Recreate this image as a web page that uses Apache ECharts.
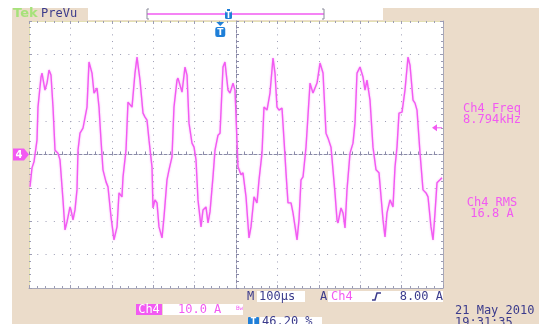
<!DOCTYPE html>
<html>
<head>
<meta charset="utf-8">
<script src="https://cdn.jsdelivr.net/npm/echarts@6/dist/echarts.min.js"></script>
<style>
  html, body { margin: 0; padding: 0; background: #fff; }
  #chart { width: 546px; height: 324px; }
</style>
</head>
<body>
<div id="chart"></div>
<script>
// time of each sample from the left edge of the screen (µs), 100 µs/div
const timeUs = [2.4,7.2,12.1,19.3,21.7,29.0,31.4,38.6,43.5,48.3,53.1,58.0,62.8,70.0,74.9,82.1,87.0,91.8,99.0,101.4,106.3,111.1,115.9,118.4,123.2,130.4,140.1,144.9,152.2,157.0,164.3,169.1,173.9,178.7,186.0,190.8,198.1,205.3,212.6,217.4,224.6,227.1,234.3,239.1,248.8,256.0,260.9,268.1,275.4,280.2,285.0,289.9,297.1,299.5,304.3,309.2,314.0,321.3,326.1,333.3,338.2,345.4,350.2,357.5,359.9,369.6,376.8,381.7,386.5,393.7,398.6,403.4,408.2,415.5,420.3,427.5,432.4,437.2,444.4,449.3,456.5,461.4,468.6,473.4,480.7,485.5,492.8,497.6,504.8,512.1,516.9,524.2,531.4,536.2,543.5,550.7,555.6,562.8,567.6,574.9,582.1,589.4,594.2,599.0,603.9,611.1,616.0,620.8,625.6,632.9,637.7,647.4,652.2,657.0,661.9,669.1,678.8,686.0,695.7,702.9,710.2,717.4,722.3,729.5,739.1,744.0,746.4,753.6,758.5,763.3,768.1,775.4,782.6,787.4,792.3,799.5,806.8,811.6,816.4,823.7,830.9,838.2,845.4,855.1,859.9,864.7,872.0,879.2,884.1,888.9,893.7,901.0,908.2,915.5,920.3,927.6,932.4,937.2,944.5,951.7,959.0,963.8,971.0,975.9,980.7,985.5,992.8,997.6];
// Ch4 current (A), 10 A/div
const currentA = [-9.7,-4.0,-2.2,4.3,14.2,23.2,24.4,19.3,21.4,25.3,23.8,14.2,1.3,0.4,-1.6,-13.6,-22.6,-20.2,-15.7,-16.6,-19.6,-16.6,-10.6,1.3,6.4,7.9,14.2,27.7,24.4,18.4,19.9,14.2,4.3,-4.6,-8.2,-9.7,-18.7,-25.6,-21.7,-11.5,-12.7,-6.7,1.3,15.7,14.2,24.4,29.2,22.3,12.4,11.2,10.3,4.3,-3.7,-16.0,-13.6,-14.5,-21.7,-25.0,-18.7,-7.6,-4.6,-0.7,14.2,22.3,22.9,18.7,26.2,23.8,9.4,3.4,2.2,-1.6,-13.6,-21.7,-16.6,-15.7,-20.5,-17.2,-6.7,1.3,5.8,6.4,26.2,27.7,19.3,18.4,21.4,19.3,-3.7,-6.1,-5.5,-12.7,-25.0,-21.7,-12.7,-14.5,-7.6,0.4,14.2,13.3,18.4,28.9,24.4,14.2,13.3,13.9,4.3,-5.5,-14.5,-14.5,-17.5,-25.6,-19.6,-7.6,-6.7,2.2,21.4,18.4,21.4,27.4,24.4,6.4,4.9,2.2,-11.5,-19.6,-20.5,-16.0,-17.5,-22.0,-10.6,0.4,3.4,9.4,24.4,26.2,23.2,19.3,22.3,16.3,2.2,-4.6,-5.5,-19.6,-24.7,-17.5,-13.6,-15.7,-3.7,2.2,12.4,12.7,19.3,29.2,26.8,16.3,15.4,13.3,0.4,-10.6,-11.5,-12.7,-21.7,-25.6,-17.5,-8.5,-7.6,-7.0];

const screenUs = 1000;     // 10 div
const halfRangeA = 40;     // 4 div each side
const triggerLevelA = 8.0;
const triggerPosUs = -38;  // T marker, from screen centre

const measLabels = ['Ch4 Freq', 'Ch4 RMS'];
const measValues = ['8.794kHz', '16.8 A'];

const BEIGE = '#ebdcca';
const PINK = '#f25af2';
const NAVY = '#3b3b8c';
const DOTS = '#9c9cb4';
const MONO = '"DejaVu Sans Mono", monospace';

const chart = echarts.init(document.getElementById('chart'));

// common axis bits
const frameX = (pos, lineColor) => ({
  type: 'value', position: pos, min: -screenUs / 2, max: screenUs / 2, interval: 100,
  axisLine: { show: true, onZero: false, lineStyle: { color: lineColor, width: 1 } },
  axisTick: { show: true, inside: true, length: 3, lineStyle: { color: DOTS } },
  minorTick: { show: true, splitNumber: 5, length: 2, lineStyle: { color: DOTS } },
  axisLabel: { show: false }, splitLine: { show: false }
});
const frameY = (pos, lineColor) => ({
  type: 'value', position: pos, min: -halfRangeA, max: halfRangeA, interval: 10,
  axisLine: { show: true, onZero: false, lineStyle: { color: lineColor, width: 1 } },
  axisTick: { show: true, inside: true, length: 3, lineStyle: { color: DOTS } },
  minorTick: { show: true, splitNumber: 5, length: 2, lineStyle: { color: DOTS } },
  axisLabel: { show: false }, splitLine: { show: false }
});

chart.setOption({
  backgroundColor: '#fff',
  animation: false,
  grid: { left: 29, top: 21, width: 414, height: 267, show: true, backgroundColor: '#fff', borderWidth: 0 },
  xAxis: [
    {
      type: 'value', min: -screenUs / 2, max: screenUs / 2, interval: 100,
      axisLine: { show: true, onZero: true, onZeroAxisIndex: 0, lineStyle: { color: '#8a8aa8', type: [3, 2] } },
      axisTick: { show: true, inside: true, length: 3, lineStyle: { color: '#8a8aa8' } },
      minorTick: { show: true, splitNumber: 5, length: 3, lineStyle: { color: '#8a8aa8' } },
      axisLabel: { show: false },
      splitLine: { show: true, lineStyle: { color: DOTS, width: 1, type: [1, 5.68] } }
    },
    frameX('bottom', '#a8a8b8'),
    frameX('top', '#e4e0b4')
  ],
  yAxis: [
    {
      type: 'value', min: -halfRangeA, max: halfRangeA, interval: 10,
      axisLine: { show: true, onZero: true, onZeroAxisIndex: 0, lineStyle: { color: '#8a8aa8', type: [3, 2] } },
      axisTick: { show: true, inside: true, length: 3, lineStyle: { color: '#8a8aa8' } },
      minorTick: { show: true, splitNumber: 5, length: 3, lineStyle: { color: '#8a8aa8' } },
      axisLabel: { show: false },
      splitLine: { show: true, lineStyle: { color: DOTS, width: 1, type: [1, 7.28] } }
    },
    frameY('left', '#e4e0b4'),
    frameY('right', '#a8a8b8')
  ],
  series: [{
    type: 'line',
    xAxisIndex: 0, yAxisIndex: 0,
    showSymbol: false,
    smooth: false,
    lineStyle: { color: PINK, width: 1.4, shadowColor: 'rgba(245,150,245,0.8)', shadowBlur: 2 },
    data: timeUs.map((t, i) => [t - screenUs / 2, currentA[i]]),
    z: 5
  }]
});

// screen decorations (scope readouts)
const lvlY = chart.convertToPixel({ yAxisIndex: 0 }, triggerLevelA);
const gndY = chart.convertToPixel({ yAxisIndex: 0 }, 0);
const trigX = chart.convertToPixel({ xAxisIndex: 0 }, triggerPosUs);

const txt = (x, y, s, color, size, align, extra) => Object.assign({
  type: 'text', x: x, y: y, z: 50,
  style: {
    text: s, fill: color, font: (extra && extra.weight ? extra.weight + ' ' : '') + size + 'px ' + (extra && extra.family ? extra.family : MONO),
    textAlign: align || 'left', align: align || 'left', textVerticalAlign: 'middle', verticalAlign: 'middle'
  }
}, {});
const box = (x, y, w, h, fill, z) => ({ type: 'rect', shape: { x: x, y: y, width: w, height: h }, style: { fill: fill }, z: z || 40, silent: true });

chart.setOption({
  graphic: [
    box(12, 8, 527, 316, BEIGE, -10),
    box(88, 8, 295, 12, '#fff', -9),
    txt(13, 14, 'Tek', '#a6e27a', 13, 'left', { weight: 'bold', family: '"DejaVu Sans"' }),
    txt(41, 14, 'PreVu', NAVY, 12, 'left'),
    // record position bar
    { type: 'line', shape: { x1: 147, y1: 14, x2: 324, y2: 14 }, style: { stroke: PINK, lineWidth: 1.5 }, z: 40 },
    { type: 'polyline', shape: { points: [[149, 9], [147, 9], [147, 19], [149, 19]] }, style: { stroke: '#8a8a9a', lineWidth: 1, fill: null }, z: 41 },
    { type: 'polyline', shape: { points: [[322, 9], [324, 9], [324, 19], [322, 19]] }, style: { stroke: '#8a8a9a', lineWidth: 1, fill: null }, z: 41 },
    { type: 'rect', shape: { x: 225, y: 11, width: 7, height: 8, r: 1.5 }, style: { fill: '#1f7fd8' }, z: 42 },
    { type: 'rect', shape: { x: 227, y: 9, width: 3, height: 2 }, style: { fill: '#1f7fd8' }, z: 42 },
    txt(228.5, 15.5, 'T', '#fff', 8, 'center', { weight: 'bold', family: '"DejaVu Sans"' }),
    // trigger position marker
    { type: 'polygon', shape: { points: [[trigX - 4, 22], [trigX + 4, 22], [trigX, 26]] }, style: { fill: '#1f7fd8' }, z: 42 },
    { type: 'rect', shape: { x: trigX - 5, y: 27, width: 10, height: 10, r: 2 }, style: { fill: '#1f7fd8' }, z: 42 },
    txt(trigX, 32.5, 'T', '#fff', 9, 'center', { weight: 'bold', family: '"DejaVu Sans"' }),
    // ground marker
    { type: 'polygon', shape: { points: [[13, gndY - 6], [24, gndY - 6], [29, gndY], [24, gndY + 6], [13, gndY + 6]] }, style: { fill: PINK }, z: 42 },
    txt(19, gndY + 0.5, '4', '#fff', 10, 'center', { weight: 'bold', family: '"DejaVu Sans"' }),
    // trigger level marker
    { type: 'polygon', shape: { points: [[432, lvlY], [437, lvlY - 3.5], [437, lvlY + 3.5]] }, style: { fill: PINK }, z: 42 },
    { type: 'line', shape: { x1: 436, y1: lvlY, x2: 442, y2: lvlY }, style: { stroke: PINK, lineWidth: 1 }, z: 42 },
    // measurements
    txt(492, 108.5, measLabels[0], PINK, 12, 'center'),
    txt(492, 119.5, measValues[0], PINK, 12, 'center'),
    txt(492, 202.5, measLabels[1], PINK, 12, 'center'),
    txt(492, 213.5, measValues[1], PINK, 12, 'center'),
    // horizontal / trigger readout
    txt(247, 296.5, 'M', NAVY, 12, 'left'),
    box(257, 291, 48, 11, '#fff'),
    txt(259, 296.5, '100µs', NAVY, 12, 'left'),
    txt(320, 296.5, 'A', NAVY, 12, 'left'),
    box(328, 291, 115, 11, '#fff'),
    txt(331, 296.5, 'Ch4', PINK, 12, 'left'),
    { type: 'polyline', shape: { points: [[372, 300], [375, 300], [377, 293], [381, 293]] }, style: { stroke: NAVY, lineWidth: 1.5, fill: null }, z: 45 },
    txt(443, 296.5, '8.00 A', NAVY, 12, 'right'),
    // channel readout
    box(136, 304, 26, 11, PINK),
    txt(149, 309.5, 'Ch4', '#fff', 12, 'center'),
    box(163, 304, 80, 11, '#fff'),
    txt(178, 309.5, '10.0 A', PINK, 12, 'left'),
    txt(236, 308, 'Bw', PINK, 6, 'left'),
    // trigger position readout
    { type: 'rect', shape: { x: 248, y: 317, width: 11, height: 9, r: 1 }, style: { fill: '#1f7fd8' }, z: 42 },
    txt(253.5, 321.5, 'T', '#fff', 8, 'center', { weight: 'bold', family: '"DejaVu Sans"' }),
    box(260, 317, 62, 9, '#fff'),
    txt(262, 322, '46.20 %', NAVY, 12, 'left'),
    // date / time
    txt(455, 311, '21 May 2010', NAVY, 12, 'left'),
    txt(455, 323, '19:31:35', NAVY, 12, 'left')
  ]
});
</script>
</body>
</html>
